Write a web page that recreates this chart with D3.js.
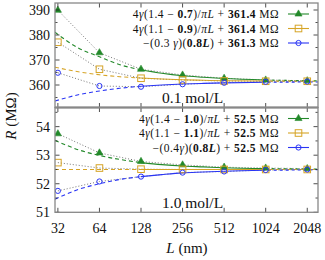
<!DOCTYPE html>
<meta charset="utf-8">
<head>
<script src="https://d3js.org/d3.v7.min.js"></script>
</head>
<style>
  html, body { margin: 0; padding: 0; background: white; }
  text { font-family: "Liberation Serif", "DejaVu Serif", serif; fill: #111; }
  .frame { fill: none; stroke: #888; stroke-width: 1.3; }
</style>
<body>
<svg id="chart" width="325" height="260"></svg>
<script>
// system sizes (nm) where the resistance was computed
var sizes = [32, 64, 128, 256, 512, 1024, 2048];
var fitSizes = [30.5, 45, 64, 90, 128, 181, 256, 362, 512, 1024, 2048, 2450];
var xTicks = [32, 64, 128, 256, 512, 1024, 2048];

// 0.1 mol/L panel
var topGreen = [389.9, 372.9, 366.3, 364.0, 362.7, 362.0, 361.7];
var topGold  = [377.1, 366.3, 362.7, 362.0, 361.6, 361.5, 361.5];
var topBlue  = [364.9, 359.6, 359.3, 360.3, 360.9, 361.3, 361.4];
var topGreenFit = [381.1, 374.8, 371.3, 368.1, 366.1, 364.7, 363.7, 363.1, 362.6, 362.0, 361.7, 361.65];
var topGoldFit  = [367.1, 365.3, 364.1, 363.3, 362.8, 362.4, 362.1, 361.9, 361.7, 361.57, 361.5, 361.47];
var topBlueFit  = [353.6, 356.1, 357.6, 358.7, 359.5, 360.0, 360.4, 360.65, 360.84, 361.07, 361.19, 361.2];
var topTicks = [360, 370, 380, 390];

// 1.0 mol/L panel
var botGreen = [53.75, 53.08, 52.78, 52.66, 52.58, 52.55, 52.53];
var botGold  = [52.74, 52.55, 52.51, 52.50, 52.50, 52.50, 52.50];
var botBlue  = [51.75, 52.08, 52.25, 52.39, 52.43, 52.48, 52.50];
var botGreenFit = [53.52, 53.19, 52.99, 52.85, 52.74, 52.67, 52.62, 52.59, 52.56, 52.53, 52.515, 52.51];
var botGoldFit  = [52.5, 52.5, 52.5, 52.5, 52.5, 52.5, 52.5, 52.5, 52.5, 52.5, 52.5, 52.5];
var botBlueFit  = [51.46, 51.80, 52.0, 52.15, 52.25, 52.32, 52.38, 52.41, 52.44, 52.47, 52.485, 52.49];
var botTicks = [51, 52, 53, 54];

// legend entries: [text, style] pieces, i = italic, b = bold
var topLegend = [
  [["4", ""], ["γ", "i"], ["(1.4 − ", ""], ["0.7", "b"], [")/", ""], ["πL", "i"], [" + ", ""], ["361.4", "b"], [" MΩ", ""]],
  [["4", ""], ["γ", "i"], ["(1.1 − ", ""], ["0.9", "b"], [")/", ""], ["πL", "i"], [" + ", ""], ["361.4", "b"], [" MΩ", ""]],
  [["−(0.3 ", ""], ["γ", "i"], [")(", ""], ["0.8", "b"], ["L", "bi"], [") + ", ""], ["361.3", "b"], [" MΩ", ""]]
];
var botLegend = [
  [["4", ""], ["γ", "i"], ["(1.4 − ", ""], ["1.0", "b"], [")/", ""], ["πL", "i"], [" + ", ""], ["52.5", "b"], [" MΩ", ""]],
  [["4", ""], ["γ", "i"], ["(1.1 − ", ""], ["1.1", "b"], [")/", ""], ["πL", "i"], [" + ", ""], ["52.5", "b"], [" MΩ", ""]],
  [["−(0.4", ""], ["γ", "i"], [")(", ""], ["0.8", "b"], ["L", "bi"], [") + ", ""], ["52.5", "b"], [" MΩ", ""]]
];

var green = "#23892a", gold = "#d6a426", blue = "#2a35f5";

var svg = d3.select("#chart");
var plotLeft = 55, plotRight = 318, plotTop = 3, plotMid = 107.5, plotBottom = 212.3;

var x = d3.scaleLog().base(2).domain([30.5, 2450]).range([plotLeft, plotRight]);

function panel(id, y0, y1, domain, ticks, minorStep, series, fits, legend, label) {
  var y = d3.scaleLinear().domain(domain).range([y1, y0]);
  var g = svg.append("g");

  g.append("clipPath").attr("id", id).append("rect")
    .attr("x", plotLeft).attr("y", y0).attr("width", plotRight - plotLeft).attr("height", y1 - y0);

  var plot = g.append("g").attr("clip-path", "url(#" + id + ")");

  // major and minor ticks on both sides, pointing in
  var minor = d3.range(Math.ceil(domain[0] / minorStep) * minorStep, domain[1], minorStep)
    .map(function(v) { return +v.toFixed(3); });
  minor.forEach(function(v) {
    var len = ticks.indexOf(v) >= 0 ? 4.5 : 2.5;
    g.append("line").attr("x1", plotLeft).attr("x2", plotLeft + len).attr("y1", y(v)).attr("y2", y(v))
      .attr("stroke", "#222").attr("stroke-width", 0.8);
    g.append("line").attr("x1", plotRight).attr("x2", plotRight - len).attr("y1", y(v)).attr("y2", y(v))
      .attr("stroke", "#222").attr("stroke-width", 0.8);
  });
  xTicks.forEach(function(v) {
    g.append("line").attr("x1", x(v)).attr("x2", x(v)).attr("y1", y0).attr("y2", y0 + 4.5)
      .attr("stroke", "#222").attr("stroke-width", 0.8);
    g.append("line").attr("x1", x(v)).attr("x2", x(v)).attr("y1", y1).attr("y2", y1 - 4.5)
      .attr("stroke", "#222").attr("stroke-width", 0.8);
  });

  // y labels
  g.selectAll(".ylab").data(ticks).enter().append("text")
    .attr("x", plotLeft - 5).attr("y", function(d) { return y(d); })
    .attr("dy", "0.35em").attr("text-anchor", "end")
    .style("font-size", "14px").text(function(d) { return d; });

  var line = d3.line().x(function(d) { return x(d[0]); }).y(function(d) { return y(d[1]); });
  var smooth = d3.line().curve(d3.curveMonotoneX)
    .x(function(d) { return x(d[0]); }).y(function(d) { return y(d[1]); });

  // dotted grey joins through the data
  series.forEach(function(s) {
    plot.append("path").datum(sizes.map(function(l, i) { return [l, s.vals[i]]; }))
      .attr("d", line).attr("fill", "none").attr("stroke", "#666")
      .attr("stroke-width", 0.9).attr("stroke-dasharray", "1,2");
  });

  // fits: dashed outside the fitted window, solid inside it
  fits.forEach(function(f) {
    var pts = fitSizes.map(function(l, i) { return [l, f.vals[i]]; });
    plot.append("path").datum(pts.filter(function(p) { return p[0] <= 128; }))
      .attr("d", smooth).attr("fill", "none").attr("stroke", f.color)
      .attr("stroke-width", 1.1).attr("stroke-dasharray", "4,3");
    plot.append("path").datum(pts.filter(function(p) { return p[0] >= 1024; }))
      .attr("d", smooth).attr("fill", "none").attr("stroke", f.color)
      .attr("stroke-width", 1.1).attr("stroke-dasharray", "3,3").attr("stroke-dashoffset", f.off);
    plot.append("path").datum(pts.filter(function(p) { return p[0] >= 128 && p[0] <= 1024; }))
      .attr("d", smooth).attr("fill", "none").attr("stroke", f.color).attr("stroke-width", 1.1);
  });

  // markers
  series.forEach(function(s) {
    var pts = sizes.map(function(l, i) { return [x(l), y(s.vals[i])]; });
    drawMarkers(plot, pts, s.shape, s.color);
  });

  // frame
  g.append("rect").attr("class", "frame")
    .attr("x", plotLeft).attr("y", y0).attr("width", plotRight - plotLeft).attr("height", y1 - y0);

  // legend
  legend.forEach(function(parts, i) {
    var ly = y0 + 11 + i * 14.5;
    var t = g.append("text").attr("x", 279).attr("y", ly).attr("dy", "0.35em")
      .attr("text-anchor", "end").style("font-size", "11.5px").style("letter-spacing", "0.45px");
    parts.forEach(function(p) {
      var ts = t.append("tspan").text(p[0]);
      if (p[1].indexOf("i") >= 0) ts.style("font-style", "italic");
      if (p[1].indexOf("b") >= 0) ts.style("font-weight", "bold");
    });
    var s = series[i];
    g.append("line").attr("x1", 288).attr("x2", 309).attr("y1", ly).attr("y2", ly)
      .attr("stroke", s.color).attr("stroke-width", 1.1);
    drawMarkers(g, [[298.5, ly]], s.shape, s.color);
  });

  g.append("text").attr("x", 162).attr("y", y1 - 10).attr("dy", "0.35em")
    .style("font-size", "15.5px").text(label);
}

function drawMarkers(sel, pts, shape, color) {
  pts.forEach(function(p) {
    if (shape === "tri") {
      sel.append("path").attr("d", d3.symbol().type(d3.symbolTriangle).size(22)())
        .attr("transform", "translate(" + p[0] + "," + p[1] + ")")
        .attr("fill", color).attr("stroke", color).attr("stroke-width", 0.6);
    } else if (shape === "sq") {
      sel.append("rect").attr("x", p[0] - 3.3).attr("y", p[1] - 3.3)
        .attr("width", 6.6).attr("height", 6.6)
        .attr("fill", "none").attr("stroke", color).attr("stroke-width", 1);
    } else {
      sel.append("circle").attr("cx", p[0]).attr("cy", p[1]).attr("r", 2.6)
        .attr("fill", "none").attr("stroke", color).attr("stroke-width", 1);
    }
  });
}

panel("clipTop", plotTop, plotMid, [351, 392.8], topTicks, 5,
  [{vals: topGreen, shape: "tri", color: green},
   {vals: topGold, shape: "sq", color: gold},
   {vals: topBlue, shape: "circ", color: blue}],
  [{vals: topGreenFit, color: green, off: 0},
   {vals: topGoldFit, color: gold, off: 2},
   {vals: topBlueFit, color: blue, off: 4}],
  topLegend, "0.1 mol/L");

panel("clipBot", plotMid, plotBottom, [51, 54.67], botTicks, 0.5,
  [{vals: botGreen, shape: "tri", color: green},
   {vals: botGold, shape: "sq", color: gold},
   {vals: botBlue, shape: "circ", color: blue}],
  [{vals: botGreenFit, color: green, off: 0},
   {vals: botGoldFit, color: gold, off: 2},
   {vals: botBlueFit, color: blue, off: 4}],
  botLegend, "1.0 mol/L");

// separator between the panels
svg.append("line").attr("x1", plotLeft).attr("x2", plotRight).attr("y1", plotMid).attr("y2", plotMid)
  .attr("stroke", "#888").attr("stroke-width", 2.2);

// x tick labels
svg.selectAll(".xlab").data(xTicks).enter().append("text")
  .attr("x", function(d) { return x(d); }).attr("y", 228).attr("dy", "0.35em")
  .attr("text-anchor", "middle").style("font-size", "14px").text(function(d) { return d; });

var xl = svg.append("text").attr("x", 187).attr("y", 248).attr("dy", "0.35em")
  .attr("text-anchor", "middle").style("font-size", "15px");
xl.append("tspan").style("font-style", "italic").text("L");
xl.append("tspan").text(" (nm)");

var yl = svg.append("text").attr("transform", "translate(11,116) rotate(-90)")
  .attr("dy", "0.35em").attr("text-anchor", "middle").style("font-size", "15px");
yl.append("tspan").style("font-style", "italic").text("R");
yl.append("tspan").text(" (MΩ)");
</script>
</body>
